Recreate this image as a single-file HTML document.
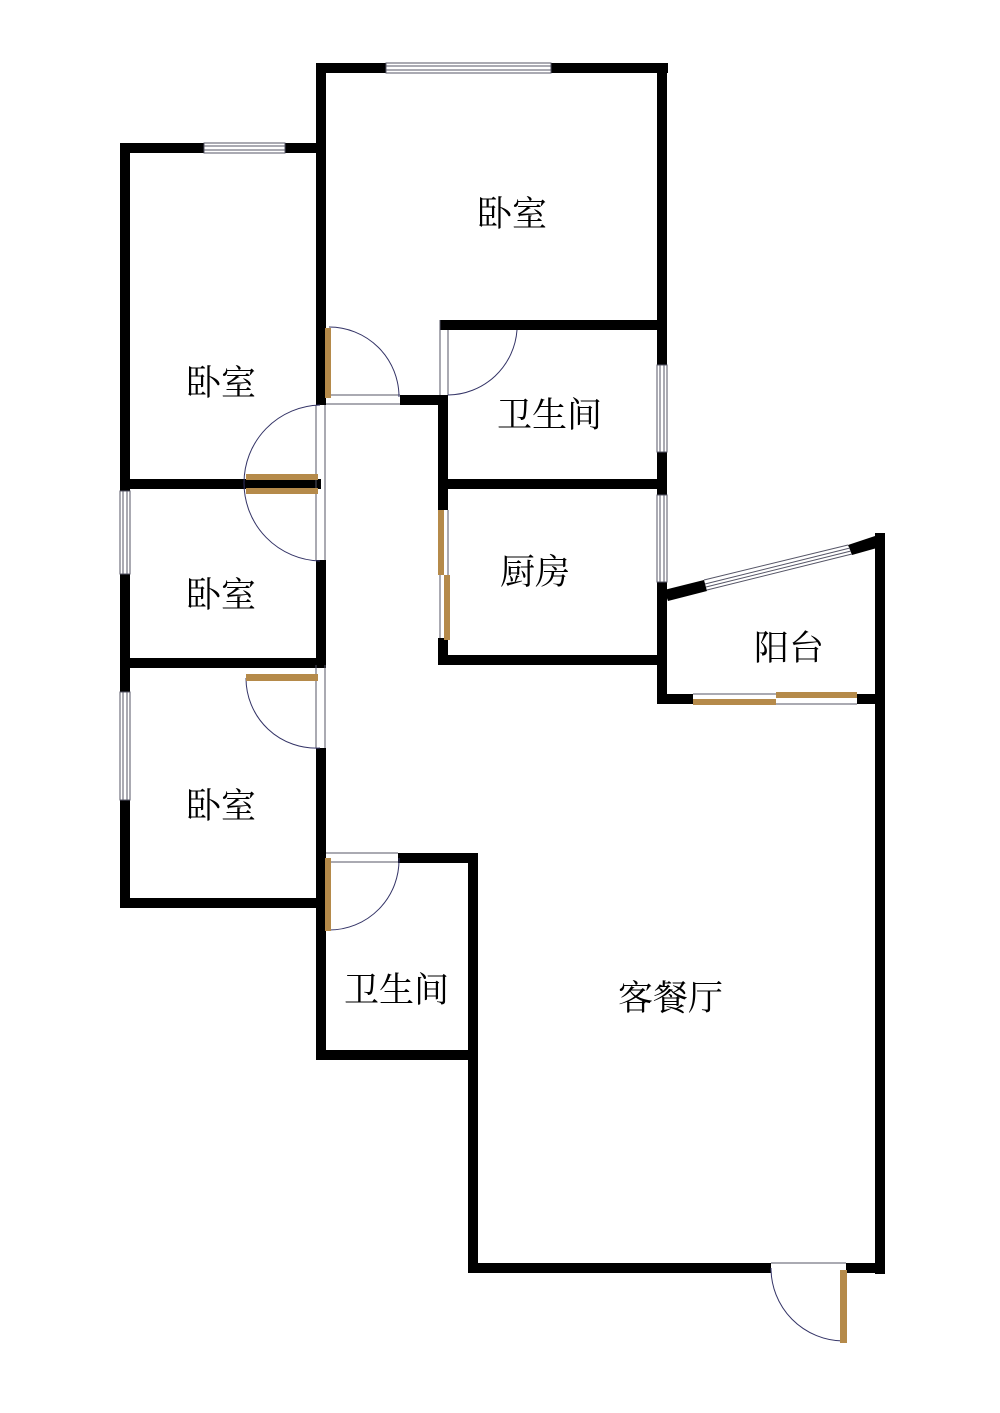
<!DOCTYPE html>
<html><head><meta charset="utf-8"><style>
html,body{margin:0;padding:0;background:#fff;}
svg{display:block}
text{font-family:"Liberation Serif","Noto Serif CJK SC",serif;font-size:35px;fill:#000}
</style></head><body>
<svg width="1000" height="1413" viewBox="0 0 1000 1413" xmlns="http://www.w3.org/2000/svg">
<rect width="1000" height="1413" fill="#fff"/>
<g fill="#000">
<rect x="316" y="63" width="70" height="10"/>
<rect x="551" y="63" width="117" height="10"/>
<rect x="316" y="63" width="10" height="342"/>
<rect x="657" y="63" width="10" height="302"/>
<rect x="120" y="143" width="84" height="10"/>
<rect x="285" y="143" width="36" height="10"/>
<rect x="120" y="143" width="10" height="348"/>
<rect x="120" y="574" width="10" height="118"/>
<rect x="120" y="800" width="10" height="108"/>
<rect x="120" y="898" width="206" height="10"/>
<rect x="316" y="560" width="10" height="105"/>
<rect x="316" y="748" width="10" height="312"/>
<rect x="120" y="479" width="201" height="10"/>
<rect x="120" y="658" width="206" height="10"/>
<rect x="440" y="320" width="227" height="10"/>
<rect x="400" y="395" width="48" height="10"/>
<rect x="438" y="395" width="10" height="115"/>
<rect x="438" y="638" width="10" height="27"/>
<rect x="438" y="479" width="229" height="10"/>
<rect x="438" y="655" width="229" height="10"/>
<rect x="657" y="452" width="10" height="43"/>
<rect x="657" y="582" width="10" height="122"/>
<rect x="657" y="694" width="36" height="10"/>
<rect x="857" y="694" width="28" height="10"/>
<polygon points="664,590 704,580 707,591 668,601"/>
<polygon points="848,545 884,533 884,546 852,555"/>
<rect x="875" y="533" width="10" height="741"/>
<rect x="468" y="1263" width="303" height="10"/>
<rect x="846" y="1263" width="39" height="10"/>
<rect x="468" y="853" width="10" height="420"/>
<rect x="398" y="853" width="80" height="10"/>
<rect x="316" y="1050" width="162" height="10"/>
</g>
<g stroke="#556" stroke-width="1" fill="none">
<rect x="386" y="63" width="165" height="10" fill="#fff"/>
<line x1="386" y1="66" x2="551" y2="66"/><line x1="386" y1="70" x2="551" y2="70"/>
<rect x="204" y="143" width="81" height="10" fill="#fff"/>
<line x1="204" y1="146" x2="285" y2="146"/><line x1="204" y1="150" x2="285" y2="150"/>
<rect x="120" y="491" width="10" height="83" fill="#fff"/>
<line x1="123" y1="491" x2="123" y2="574"/><line x1="127" y1="491" x2="127" y2="574"/>
<rect x="120" y="692" width="10" height="108" fill="#fff"/>
<line x1="123" y1="692" x2="123" y2="800"/><line x1="127" y1="692" x2="127" y2="800"/>
<rect x="657" y="365" width="10" height="87" fill="#fff"/>
<line x1="660" y1="365" x2="660" y2="452"/><line x1="664" y1="365" x2="664" y2="452"/>
<rect x="657" y="495" width="10" height="87" fill="#fff"/>
<line x1="660" y1="495" x2="660" y2="582"/><line x1="664" y1="495" x2="664" y2="582"/>
<line x1="704" y1="580" x2="848" y2="545"/><line x1="705" y1="584" x2="850" y2="548"/><line x1="706" y1="587" x2="851" y2="551"/><line x1="707" y1="590" x2="852" y2="554"/>
<line x1="326" y1="395" x2="400" y2="395"/><line x1="326" y1="404" x2="400" y2="404"/>
<line x1="440" y1="320" x2="440" y2="395"/><line x1="448" y1="330" x2="448" y2="395"/>
<line x1="316" y1="405" x2="316" y2="560"/><line x1="325" y1="405" x2="325" y2="560"/>
<line x1="316" y1="665" x2="316" y2="748"/><line x1="325" y1="665" x2="325" y2="748"/>
<line x1="326" y1="853" x2="398" y2="853"/><line x1="326" y1="862" x2="398" y2="862"/>
<line x1="440" y1="510" x2="440" y2="638"/><line x1="448" y1="510" x2="448" y2="638"/>
<line x1="693" y1="694" x2="857" y2="694"/><line x1="693" y1="704" x2="857" y2="704"/>
<line x1="771" y1="1263" x2="846" y2="1263"/>
</g>
<g stroke="#336" stroke-width="1" fill="none">
<path d="M329,327 A70,70 0 0 1 399,397"/>
<path d="M517,330 A70,70 0 0 1 448,395"/>
<path d="M320,405 A78,78 0 0 0 244,483 A78,78 0 0 0 320,561"/>
<path d="M246,678 A70,70 0 0 0 320,748"/>
<path d="M399,858 A70,70 0 0 1 329,930"/>
<path d="M771,1268 A73,73 0 0 0 843,1341"/>
</g>
<g fill="#b58a4a">
<rect x="325" y="328" width="6" height="70"/>
<rect x="246" y="474" width="72" height="6"/>
<rect x="246" y="488" width="72" height="6"/>
<rect x="246" y="674" width="72" height="7"/>
<rect x="325" y="858" width="6" height="73"/>
<rect x="438" y="510" width="6" height="65"/>
<rect x="444" y="575" width="6" height="65"/>
<rect x="693" y="699" width="83" height="6"/>
<rect x="776" y="692" width="81" height="6"/>
<rect x="840" y="1270" width="7" height="73"/>
</g>
<text x="477" y="226">卧室</text>
<text x="186" y="395">卧室</text>
<text x="186" y="607">卧室</text>
<text x="186" y="818">卧室</text>
<text x="497" y="427">卫生间</text>
<text x="500" y="584">厨房</text>
<text x="754" y="660">阳台</text>
<text x="344" y="1002">卫生间</text>
<text x="618" y="1010">客餐厅</text>
</svg>
</body></html>
